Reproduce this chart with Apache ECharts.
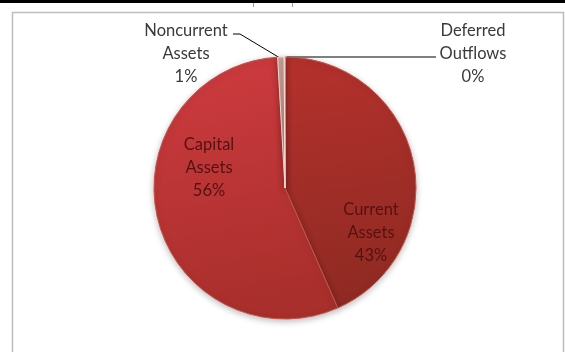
<!DOCTYPE html>
<html>
<head>
<meta charset="utf-8">
<script src="https://cdn.jsdelivr.net/npm/echarts@6/dist/echarts.min.js"></script>
<style>
  html, body { margin: 0; padding: 0; background: #ffffff; }
  #chart { width: 565px; height: 352px; }
</style>
</head>
<body>
<div id="chart"></div>
<script>
// Composition of assets (share of total)
var categories = ['Current\nAssets', 'Capital\nAssets', 'Noncurrent\nAssets', 'Deferred\nOutflows'];
var values = [43.4, 55.7, 0.8, 0.1];

// Slice fills: top colour, bottom colour
var sliceTop = ['#B5312D', '#CF3B40', '#D2A49A', '#C89A90'];
var sliceBottom = ['#8E2A22', '#A82F2B', '#B88478', '#B08278'];
var sliceBorder = ['#C2554C', '#C2554C', '#F2DCD6', '#F2DCD6'];
var insideLabelColor = '#521310';
var outsideLabelColor = '#3A3A3A';

// Label anchors (centre of each label block) and leader lines
var labelPlacement = [
  { x: 371, y: 233 },
  { x: 209, y: 168 },
  { x: 186, y: 54, line: [[280, 58], [240, 34], [233, 34]] },
  { x: 473, y: 54, line: [[287, 57], [436, 57]] }
];

var chart = echarts.init(document.getElementById('chart'), null, { renderer: 'canvas' });

var data = categories.map(function (name, i) {
  var outside = !!labelPlacement[i].line;
  return {
    name: name,
    value: values[i],
    itemStyle: {
      color: {
        type: 'linear', x: 0, y: 0, x2: 0.3, y2: 1,
        colorStops: [
          { offset: 0, color: sliceTop[i] },
          { offset: 1, color: sliceBottom[i] }
        ]
      },
      borderColor: sliceBorder[i]
    },
    label: {
      color: outside ? outsideLabelColor : insideLabelColor
    },
    labelLine: { show: outside }
  };
});

chart.setOption({
  backgroundColor: '#ffffff',
  animation: false,
  graphic: [
    { type: 'rect', shape: { x: 0, y: 0, width: 565, height: 3 }, style: { fill: '#000000' } },
    { type: 'rect', shape: { x: 253, y: 3, width: 1, height: 4 }, style: { fill: '#9a9a9a' } },
    { type: 'rect', shape: { x: 292, y: 3, width: 1, height: 4 }, style: { fill: '#9a9a9a' } },
    {
      type: 'rect', z: -1,
      shape: { x: 12.5, y: 12.5, width: 551, height: 350 },
      style: { fill: 'none', stroke: '#BDBDBD', lineWidth: 1.5 }
    }
  ],
  series: [{
    type: 'pie',
    center: [285, 188],
    radius: [0, 131],
    startAngle: 90,
    clockwise: true,
    percentPrecision: 0,
    avoidLabelOverlap: false,
    data: data,
    itemStyle: {
      borderWidth: 1,
      shadowBlur: 6,
      shadowOffsetY: 2,
      shadowColor: 'rgba(0,0,0,0.25)'
    },
    label: {
      show: true,
      formatter: '{b}\n{d}%',
      fontFamily: 'Lato, "Open Sans", sans-serif',
      fontSize: 16.5,
      lineHeight: 23,
      align: 'center'
    },
    labelLine: {
      show: true,
      lineStyle: { color: '#000000', width: 1 }
    },
    labelLayout: function (params) {
      var p = labelPlacement[params.dataIndex];
      var res = {
        x: p.x,
        y: p.y,
        align: 'center',
        verticalAlign: 'middle'
      };
      if (p.line) res.labelLinePoints = p.line;
      return res;
    },
    emphasis: { disabled: true }
  }]
});
</script>
</body>
</html>
